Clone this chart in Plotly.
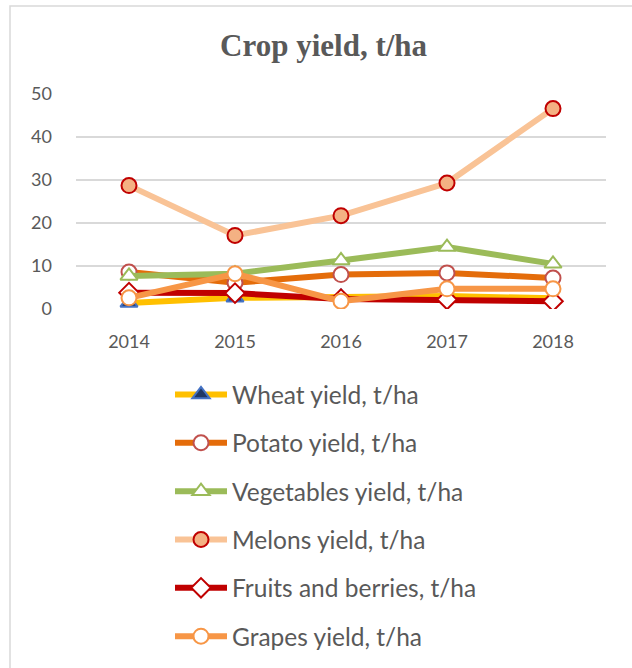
import plotly.graph_objects as go

years = ["2014", "2015", "2016", "2017", "2018"]

wheat = [1.4, 2.6, 2.8, 3.0, 2.5]
potato = [8.6, 6.1, 8.0, 8.4, 7.2]
vegetables = [7.7, 8.2, 11.3, 14.4, 10.5]
melons = [28.7, 17.1, 21.7, 29.3, 46.6]
fruits = [3.8, 3.7, 2.3, 2.2, 1.8]
grapes = [2.6, 8.2, 1.8, 4.7, 4.7]

series = [
    # name, values, line colour, symbol, marker fill, marker border
    ("Wheat yield, t/ha", wheat, "#FFC000", "triangle-up", "#203864", "#4472C4"),
    ("Potato yield, t/ha", potato, "#E46C0A", "circle", "white", "#C0504D"),
    ("Vegetables yield, t/ha", vegetables, "#9BBB59", "triangle-up", "white", "#9BBB59"),
    ("Melons yield, t/ha", melons, "#F9C396", "circle", "#F4B183", "#C00000"),
    ("Fruits and berries, t/ha", fruits, "#C00000", "diamond", "white", "#C00000"),
    ("Grapes yield, t/ha", grapes, "#F79646", "circle", "white", "#F79646"),
]

fig = go.Figure()
for i, (name, vals, lc, sym, fill, border) in enumerate(series):
    fig.add_trace(go.Scatter(
        x=years, y=vals, name=name, mode="lines+markers",
        legendgroup=f"g{i}",
        line=dict(color=lc, width=6),
        marker=dict(symbol=sym, size=15, color=fill,
                    line=dict(color=border, width=2)),
    ))

grey = "#595959"
fig.update_layout(
    width=632, height=668,
    margin=dict(l=76, r=26, t=94, b=359, autoexpand=False),
    plot_bgcolor="white", paper_bgcolor="white",
    font=dict(family="Lato", color=grey, size=18),
    title=dict(text="<b>Crop yield, t/ha</b>", x=0.512, xanchor="center",
               y=1 - 45 / 668, yanchor="middle",
               font=dict(family="Liberation Serif", size=31, color=grey)),
    legend=dict(orientation="v", x=(170 - 76) / 530, xanchor="left",
                y=-(372 - 309) / 215, yanchor="top",
                font=dict(size=24.5, color=grey), tracegroupgap=13.5,
                itemwidth=52, traceorder="grouped"),
    showlegend=True,
)
fig.update_xaxes(showgrid=False, showline=False, ticklabelstandoff=20,
                 range=[-0.5, 4.5])
fig.update_yaxes(range=[0, 50], dtick=10, showgrid=True, gridcolor="#D9D9D9",
                 gridwidth=1.5, zeroline=False, showline=False,
                 ticklabelstandoff=23)

# outer chart border
fig.add_shape(type="rect", xref="paper", yref="paper",
              x0=(10 - 76) / 530, x1=(640 - 76) / 530,
              y0=-(690 - 309) / 215, y1=(309 - 6) / 215,
              line=dict(color="#D9D9D9", width=1.5), layer="below")

# drop the default page margin so the figure sits at the window's corner
fig.write_html("out.html", config={"displayModeBar": False},
               post_script="document.body.style.margin='0px';")
